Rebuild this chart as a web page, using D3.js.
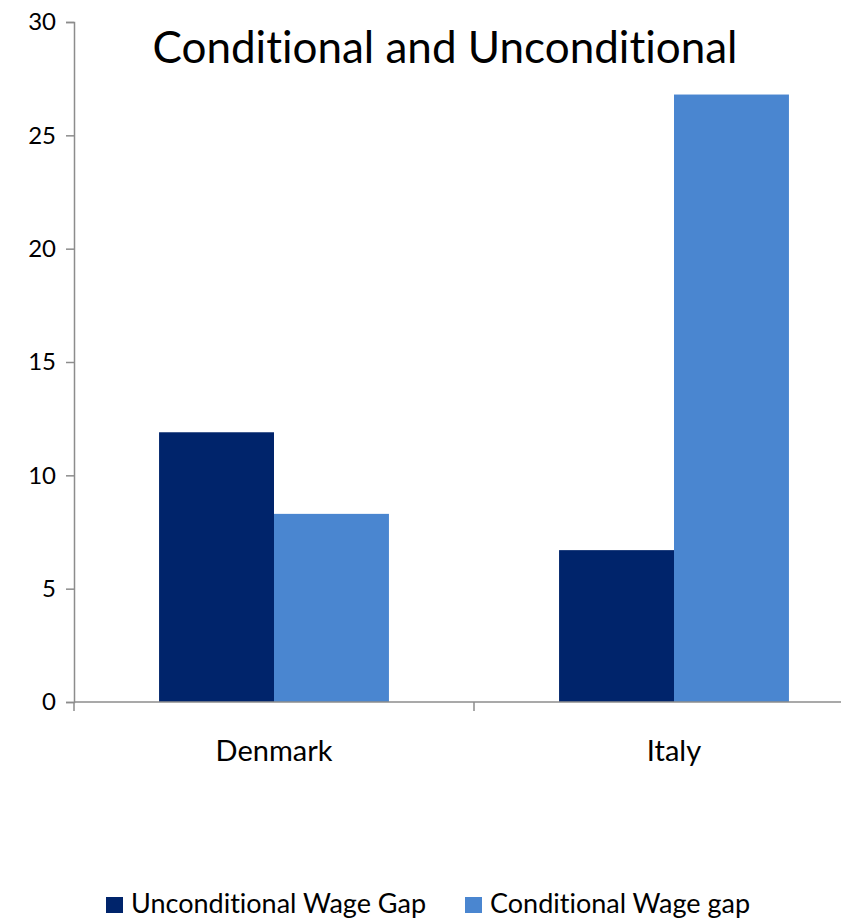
<!DOCTYPE html>
<html>
<head>
<meta charset="utf-8">
<script src="https://cdn.jsdelivr.net/npm/d3@7"></script>
<style>
  html, body { margin: 0; padding: 0; background: #fff; }
  svg { display: block; }
  text { font-family: Lato, "Open Sans", sans-serif; fill: #000; font-variant-ligatures: none; }
</style>
</head>
<body>
<svg id="chart" width="841" height="919"></svg>
<script>
// Wage gap by country, two series
const countries = ["Denmark", "Italy"];
const seriesNames = ["Unconditional Wage Gap", "Conditional Wage gap"];
const unconditional = [11.9, 6.7];
const conditional = [8.3, 26.8];
const yTicks = [0, 5, 10, 15, 20, 25, 30];
const colors = ["#00246B", "#4A86D0"];

const svg = d3.select("#chart");
const margin = { left: 74, top: 22, right: 874, bottom: 702 };

const x0 = d3.scaleBand().domain(countries)
  .range([margin.left, margin.right]).paddingInner(0).paddingOuter(0);
const x1 = d3.scaleBand().domain(seriesNames)
  .range([0, x0.bandwidth()]).paddingInner(0).paddingOuter(0.74);
const y = d3.scaleLinear().domain([0, 30]).range([margin.bottom, margin.top]);

const rows = countries.map((c, i) => ({
  country: c,
  values: [
    { key: seriesNames[0], value: unconditional[i] },
    { key: seriesNames[1], value: conditional[i] }
  ]
}));

// bars
const groups = svg.append("g").selectAll("g").data(rows).join("g")
  .attr("transform", d => `translate(${x0(d.country)},0)`);
groups.selectAll("rect").data(d => d.values).join("rect")
  .attr("x", d => x1(d.key))
  .attr("width", x1.bandwidth())
  .attr("y", d => y(d.value))
  .attr("height", d => y(0) - y(d.value))
  .attr("fill", (d, i) => colors[i]);

// y axis
const yAxis = svg.append("g").attr("transform", `translate(${margin.left},0)`)
  .call(d3.axisLeft(y).tickValues(yTicks).tickSize(8).tickPadding(10).tickFormat(d3.format("d")));
yAxis.select(".domain").attr("stroke", "#8c8c8c").attr("stroke-width", 1.5);
yAxis.selectAll(".tick line").attr("stroke", "#8c8c8c").attr("stroke-width", 1.5);
yAxis.selectAll(".tick text").attr("font-size", 24).attr("font-family", "Lato, sans-serif").attr("fill", "#000");

// x axis
const xAxisG = svg.append("g").attr("transform", `translate(0,${margin.bottom})`);
xAxisG.append("line")
  .attr("x1", margin.left).attr("x2", margin.right)
  .attr("stroke", "#8c8c8c").attr("stroke-width", 1.5);
const boundaries = [margin.left, ...countries.slice(1).map(c => x0(c))];
xAxisG.selectAll(".xt").data(boundaries).join("line")
  .attr("class", "xt")
  .attr("x1", d => d).attr("x2", d => d)
  .attr("y1", 0).attr("y2", 9)
  .attr("stroke", "#8c8c8c").attr("stroke-width", 1.5);
xAxisG.selectAll(".xl").data(countries).join("text")
  .attr("class", "xl")
  .attr("x", d => x0(d) + x0.bandwidth() / 2)
  .attr("y", 59)
  .attr("text-anchor", "middle")
  .attr("font-size", 29)
  .text(d => d);

// title
svg.append("text")
  .attr("x", 445).attr("y", 63)
  .attr("text-anchor", "middle")
  .attr("font-size", 44)
  .text("Conditional and Unconditional");

// legend
const legendX = [106, 465];
const legend = svg.append("g").selectAll("g").data(seriesNames).join("g")
  .attr("transform", (d, i) => `translate(${legendX[i]},0)`);
legend.append("rect")
  .attr("x", 0).attr("y", 897).attr("width", 17).attr("height", 16)
  .attr("fill", (d, i) => colors[i]);
legend.append("text")
  .attr("x", 25).attr("y", 913)
  .attr("font-size", 27)
  .text(d => d);
</script>
</body>
</html>
